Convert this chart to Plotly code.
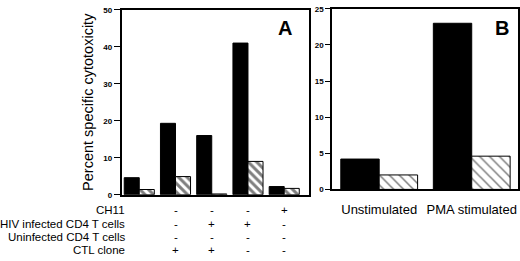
import plotly.graph_objects as go

# ---- data ----
groups_a = ["1", "2", "3", "4", "5"]
effector_a = [4.6, 19.3, 16.0, 41.0, 2.2]      # solid bars
control_a = [1.4, 4.9, 0.2, 9.0, 1.7]          # hatched bars

categories_b = ["Unstimulated", "PMA stimulated"]
effector_b = [4.2, 23.0]
control_b = [2.0, 4.6]

row_labels = ["CH11", "HIV infected CD4 T cells", "Uninfected CD4 T cells", "CTL clone"]
row_symbols = [
    ["-", "-", "-", "+", "-"],
    ["-", "+", "+", "-", "-"],
    ["-", "-", "-", "-", "+"],
    ["+", "+", "-", "-", "-"],
]
yticks_a = [0, 10, 20, 30, 40, 50]
yticks_b = [0, 5, 10, 15, 20, 25]

FONT = "Liberation Sans, Arial, sans-serif"
W, H = 520, 261

def px(xp):
    return xp / W

def py(yp):
    return 1 - yp / H

fig = go.Figure()

fig.add_trace(go.Bar(x=groups_a, y=effector_a, marker=dict(color="black", line=dict(color="black", width=1)),
                     xaxis="x", yaxis="y", showlegend=False))
fig.add_trace(go.Bar(x=groups_a, y=control_a,
                     marker=dict(color="white", line=dict(color="black", width=1),
                                 pattern=dict(shape="\\", fgcolor="black", bgcolor="white", size=6, solidity=0.5)),
                     xaxis="x", yaxis="y", showlegend=False))
fig.add_trace(go.Bar(x=categories_b, y=effector_b, marker=dict(color="black", line=dict(color="black", width=1)),
                     xaxis="x2", yaxis="y2", showlegend=False))
fig.add_trace(go.Bar(x=categories_b, y=control_b,
                     marker=dict(color="white", line=dict(color="black", width=1),
                                 pattern=dict(shape="\\", fgcolor="black", bgcolor="white", size=7, solidity=0.22)),
                     xaxis="x2", yaxis="y2", showlegend=False))

axis_common = dict(showline=True, linecolor="black", linewidth=1.5, mirror=True, showgrid=False, zeroline=False)
tickfont = dict(family=FONT, size=8, color="black", weight="bold")

fig.update_layout(
    width=W, height=H, margin=dict(l=0, r=0, t=0, b=0, pad=0),
    paper_bgcolor="white", plot_bgcolor="white",
    barmode="group", bargap=0.17, bargroupgap=0,
    xaxis=dict(domain=[px(121.5), px(308.5)], anchor="y", range=[-0.49, 4.67],
               showticklabels=False, ticks="", **axis_common),
    yaxis=dict(domain=[py(197.5), py(6)], anchor="x", range=[0, 50], tickvals=yticks_a,
               ticks="outside", ticklen=6, tickcolor="black", tickwidth=1.2, tickfont=tickfont,
               title=dict(text="Percent specific cytotoxicity",
                          font=dict(family=FONT, size=14.5, color="black"), standoff=6),
               **axis_common),
    xaxis2=dict(domain=[px(332), px(518)], anchor="y2", range=[-0.51, 1.5],
                ticks="", ticklabelstandoff=7,
                tickfont=dict(family=FONT, size=13, color="black"), **axis_common),
    yaxis2=dict(domain=[py(192), py(5)], anchor="x2", range=[0, 25], tickvals=yticks_b,
                ticks="outside", ticklen=5, tickcolor="black", tickwidth=1.2, tickfont=tickfont,
                **axis_common),
)

def ann(text, x, y, size, xref="paper", xanchor="center"):
    return dict(text=text, x=x, y=y, xref=xref, yref="paper", xanchor=xanchor, yanchor="middle",
                showarrow=False, font=dict(family=FONT, size=size, color="black"))

annotations = [
    ann("<b>A</b>", px(285), py(25), 20),
    ann("<b>B</b>", px(502), py(25), 20),
]
row_y = [213, 227.5, 241.5, 255]
for label, syms, yy in zip(row_labels, row_symbols, row_y):
    annotations.append(ann(label, px(127), py(yy), 11.5, xanchor="right"))
    for g, s in zip(groups_a, syms):
        annotations.append(ann(s, g, py(yy), 11.5, xref="x"))
fig.update_layout(annotations=annotations)

fig.write_html("out.html", config={"displayModeBar": False},
               post_script="document.body.style.margin='0';")
